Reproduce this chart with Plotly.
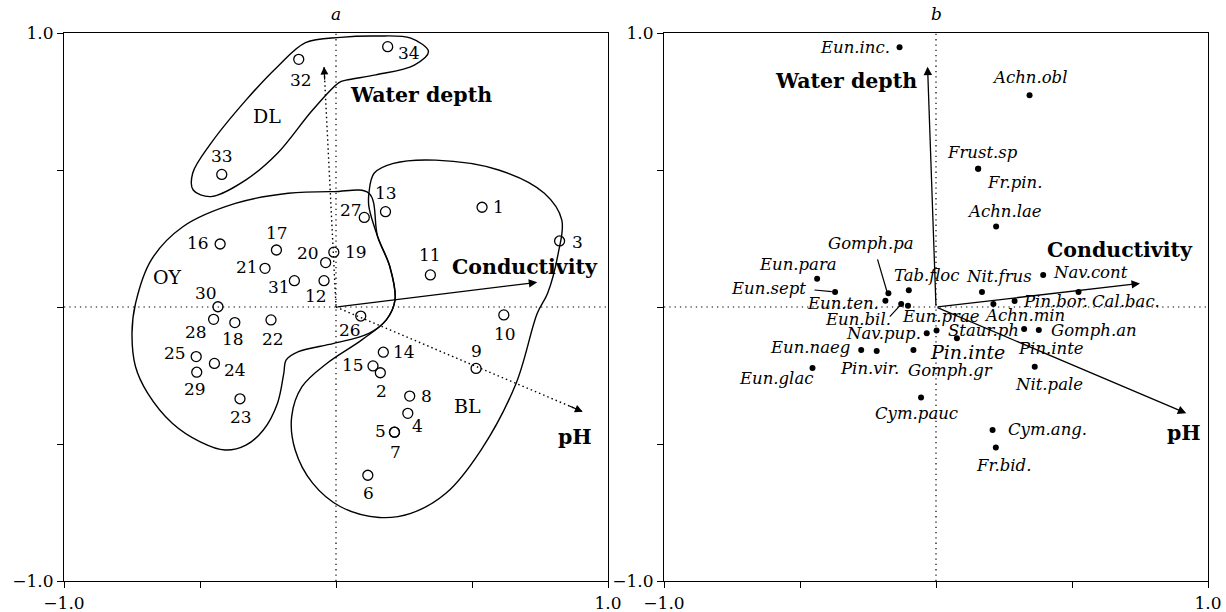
import plotly.graph_objects as go

FONT = "DejaVu Serif"

# ---------------- Panel a : sites ----------------
site_ids = ["1", "2", "3", "4", "5", "6", "7", "8", "9", "10", "11", "12", "13", "14", "15", "16", "17",
            "18", "19", "20", "21", "22", "23", "24", "25", "26", "27", "28", "29", "30", "31", "32", "33", "34"]
site_x = [0.537, 0.163, 0.822, 0.264, 0.215, 0.117, 0.215, 0.271, 0.515, 0.617, 0.347, -0.044, 0.182,
          0.174, 0.136, -0.426, -0.219, -0.372, -0.008, -0.038, -0.261, -0.239, -0.353, -0.447, -0.514,
          0.091, 0.104, -0.450, -0.512, -0.434, -0.153, -0.137, -0.420, 0.190]
site_y = [0.364, -0.240, 0.241, -0.388, -0.457, -0.614, -0.457, -0.325, -0.224, -0.029, 0.117, 0.096, 0.348,
          -0.165, -0.215, 0.230, 0.208, -0.057, 0.200, 0.162, 0.141, -0.047, -0.335, -0.206, -0.181,
          -0.033, 0.327, -0.045, -0.238, 0.001, 0.096, 0.904, 0.484, 0.950]
# label placement (pixel offsets from the marker, style only)
site_lab_dx = [16.5, 0.7, 18, 10, -14, 0.4, 1.4, 16.8, 0.4, 1, 0, -8.4, 0.7, 20.7, -20, -22, 1, -1.4, 21.8,
               -17.9, -18, 2, 1.4, 21, -21, -10.9, -13.7, -17.5, -1.8, -12.3, -15, 2, 0, 21.8]
site_lab_dy = [0, -18, -0.7, -12.7, 1.7, -17.3, -19.3, 0, 17.3, -19, 19.7, -15.3, 19, 0.7, 1, 1.3, 16.7,
               -16.7, 0.7, 9.3, 1, -19.3, -18.7, -6.7, 3.3, -14, 7.3, -12.3, -17, 13.3, -6, -20.7, 18.3, -6.7]

# group outlines (panel a)
group_names = ["DL", "OY", "BL"]
group_label_x = [-0.254, -0.621, 0.482]
group_label_y = [0.698, 0.111, -0.361]
dl_x = [-0.112, 0.017, 0.146, 0.275, 0.340, 0.288, 0.146, 0.037, 0.011, -0.086, -0.215, -0.331, -0.460,
        -0.525, -0.527, -0.460, -0.331, -0.215, -0.112]
dl_y = [0.965, 0.984, 0.989, 0.981, 0.932, 0.883, 0.847, 0.828, 0.819, 0.719, 0.561, 0.464, 0.403,
        0.427, 0.488, 0.597, 0.755, 0.877, 0.965]
oy_x = [0.121, -0.008, -0.176, -0.370, -0.563, -0.679, -0.737, -0.750, -0.737, -0.692, -0.602, -0.499,
        -0.408, -0.331, -0.267, -0.215, -0.192, -0.183, -0.138, -0.008, 0.121, 0.185, 0.217, 0.198,
        0.153, 0.121]
oy_y = [0.415, 0.421, 0.415, 0.378, 0.293, 0.172, 0.013, -0.096, -0.218, -0.315, -0.424, -0.492, -0.522,
        -0.504, -0.449, -0.351, -0.242, -0.193, -0.163, -0.133, -0.096, -0.047, 0.026, 0.147, 0.257, 0.415]
bl_x = [0.121, 0.140, 0.211, 0.366, 0.598, 0.766, 0.830, 0.817, 0.778, 0.740, 0.662, 0.533, 0.404, 0.275,
        0.159, 0.017, -0.086, -0.150, -0.163, -0.125, -0.034, 0.095, 0.185, 0.217, 0.198, 0.153, 0.121, 0.121]
bl_y = [0.415, 0.488, 0.524, 0.536, 0.500, 0.415, 0.318, 0.196, 0.050, -0.023, -0.279, -0.522, -0.680,
        -0.753, -0.768, -0.729, -0.643, -0.522, -0.400, -0.291, -0.206, -0.120, -0.047, 0.026, 0.147,
        0.257, 0.366, 0.415]

# ---------------- Environmental vectors ----------------
env_names = ["Water depth", "Conductivity", "pH"]
env_a_x = [-0.044, 0.740, 0.907]
env_a_y = [0.877, 0.090, -0.382]
env_a_dotted = [True, False, True]
env_a_label_x = [0.314, 0.694, 0.879]
env_a_label_y = [0.774, 0.147, -0.474]
env_b_x = [-0.031, 0.750, 0.920]
env_b_y = [0.877, 0.086, -0.388]
env_b_label_x = [-0.331, 0.675, 0.911]
env_b_label_y = [0.825, 0.208, -0.461]

# ---------------- Panel b : species ----------------
species = ["Eun.inc.", "Achn.obl", "Frust.sp", "Fr.pin.", "Achn.lae", "Eun.para", "Eun.sept", "Gomph.pa",
           "Tab.floc", "Eun.ten.", "Eun.bil.", "Eun.prae", "Nit.frus", "Nav.cont", "Achn.min", "Pin.bor.",
           "Cal.bac.", "Nav.pup.", "Staur.ph", "Pin.inte", "Pin.inte", "Gomph.an", "Eun.naeg", "Pin.vir.",
           "Gomph.gr", "Eun.glac", "Nit.pale", "Cym.pauc", "Cym.ang.", "Fr.bid."]
sp_x = [-0.134, 0.344, 0.155, 0.155, 0.221, -0.437, -0.371, -0.175, -0.100, -0.186, -0.128, -0.103, 0.169,
        0.394, 0.211, 0.289, 0.524, -0.034, 0.002, 0.077, 0.324, 0.378, -0.275, -0.218, -0.083, -0.454,
        0.363, -0.055, 0.208, 0.220]
sp_y = [0.948, 0.773, 0.505, 0.505, 0.294, 0.103, 0.055, 0.050, 0.061, 0.023, 0.011, 0.005, 0.055, 0.117,
        0.011, 0.022, 0.055, -0.096, -0.086, -0.114, -0.080, -0.084, -0.157, -0.161, -0.157, -0.223,
        -0.218, -0.330, -0.449, -0.513]
# label placement (anchor, pixel offsets) -- style only
sp_lab_anchor = ["r", "c", "c", "c", "c", "c", "r", "c", "c", "r", "c", "c", "c", "l", "c", "l", "l", "r",
                 "l", "c", "c", "l", "r", "c", "c", "c", "c", "c", "l", "c"]
sp_lab_dx = [-8, 0, 4.5, 36, 8, -19, -27, -17, 18, -4, -43, 32.6, 17.5, 8, 31.6, 6.7, 11, -4, 9.5, 10.5,
             27, 10.5, -9, -7, 37, -37, 14, -5, 13, 8]
sp_lab_dy = [0, 18, 16.3, -14, 14.7, 14.7, 3.7, 50, 15, -2.7, -15.3, -11, 15.3, 2.3, -12, -0.7, -9.7, 0, 0,
             -14, -19.3, 0, 2.3, -17.3, -20, -10.3, -17.3, -16, 0.7, -18]
sp_lab_size = [16.5] * len(species)
sp_lab_size[19] = 19
# leader lines for crowded labels (from label to point)
leader_x0 = [-0.447, -0.215, -0.170]
leader_y0 = [0.062, 0.174, -0.035]
leader_x1 = [-0.383, -0.179, -0.131]
leader_y1 = [0.056, 0.052, 0.007]

# ---------------- figure ----------------
fig = go.Figure()
black = "black"

# outlines
for gx, gy in [(dl_x, dl_y), (oy_x, oy_y), (bl_x, bl_y)]:
    fig.add_trace(go.Scatter(x=gx, y=gy, mode="lines", line=dict(color=black, width=1.4, shape="spline",
                                                                  smoothing=1.0),
                             hoverinfo="skip", xaxis="x", yaxis="y"))

# site markers
fig.add_trace(go.Scatter(x=site_x, y=site_y, mode="markers",
                         marker=dict(symbol="circle-open", size=10, color=black, line=dict(width=1.3)),
                         xaxis="x", yaxis="y"))

# species markers
fig.add_trace(go.Scatter(x=sp_x, y=sp_y, mode="markers",
                         marker=dict(symbol="circle", size=6, color=black),
                         xaxis="x2", yaxis="y2"))

# leader lines
for i in range(len(leader_x0)):
    fig.add_trace(go.Scatter(x=[leader_x0[i], leader_x1[i]], y=[leader_y0[i], leader_y1[i]], mode="lines",
                             line=dict(color=black, width=1.2), xaxis="x2", yaxis="y2", hoverinfo="skip"))

annotations = []
shapes = []

# dotted zero lines
for xr, yr in [("x", "y"), ("x2", "y2")]:
    shapes.append(dict(type="line", xref=xr, yref=yr, x0=0, x1=0, y0=-1, y1=1,
                       line=dict(color=black, width=1.2, dash="1.3px,4px")))
    shapes.append(dict(type="line", xref=xr, yref=yr, x0=-1, x1=1, y0=0, y1=0,
                       line=dict(color=black, width=1.2, dash="1.3px,4px")))

# panel a vectors
for i, name in enumerate(env_names):
    hx, hy = env_a_x[i], env_a_y[i]
    if env_a_dotted[i]:
        fig.add_trace(go.Scatter(x=[0, hx], y=[0, hy], mode="lines",
                                 line=dict(color=black, width=1.4, dash="1.5px,3px"),
                                 xaxis="x", yaxis="y", hoverinfo="skip"))
        annotations.append(dict(x=hx, y=hy, ax=hx * 0.94, ay=hy * 0.94, xref="x", yref="y", axref="x",
                                ayref="y", showarrow=True, arrowhead=2, arrowsize=1.3, arrowwidth=1.2,
                                arrowcolor=black, standoff=0, text=""))
    else:
        annotations.append(dict(x=hx, y=hy, ax=0, ay=0, xref="x", yref="y", axref="x", ayref="y",
                                showarrow=True, arrowhead=2, arrowsize=1.3, arrowwidth=1.3,
                                arrowcolor=black, standoff=0, text=""))
    annotations.append(dict(x=env_a_label_x[i], y=env_a_label_y[i], xref="x", yref="y", showarrow=False,
                            text="<b>%s</b>" % name, font=dict(family=FONT, size=20.5, color=black)))

# panel b vectors
for i, name in enumerate(env_names):
    annotations.append(dict(x=env_b_x[i], y=env_b_y[i], ax=0, ay=0, xref="x2", yref="y2", axref="x2",
                            ayref="y2", showarrow=True, arrowhead=2, arrowsize=1.3, arrowwidth=1.3,
                            arrowcolor=black, standoff=0, text=""))
    annotations.append(dict(x=env_b_label_x[i], y=env_b_label_y[i], xref="x2", yref="y2", showarrow=False,
                            text="<b>%s</b>" % name, font=dict(family=FONT, size=20.5, color=black)))

# site labels
for i, sid in enumerate(site_ids):
    annotations.append(dict(x=site_x[i], y=site_y[i], xref="x", yref="y", showarrow=False, text=sid,
                            xshift=site_lab_dx[i], yshift=site_lab_dy[i],
                            font=dict(family=FONT, size=17, color=black)))

# group labels
for i, g in enumerate(group_names):
    annotations.append(dict(x=group_label_x[i], y=group_label_y[i], xref="x", yref="y", showarrow=False,
                            text=g, font=dict(family=FONT, size=19, color=black)))

# species labels
anch = {"c": "center", "l": "left", "r": "right"}
for i, sp in enumerate(species):
    annotations.append(dict(x=sp_x[i], y=sp_y[i], xref="x2", yref="y2", showarrow=False,
                            text="<i>%s</i>" % sp, xanchor=anch[sp_lab_anchor[i]],
                            xshift=sp_lab_dx[i], yshift=sp_lab_dy[i],
                            font=dict(family=FONT, size=sp_lab_size[i], color=black)))

# panel titles
dom_a = [64 / 1226, 608 / 1226]
dom_b = [664 / 1226, 1208 / 1226]
ydom = [1 - 581 / 612, 1 - 33 / 612]
for d, t in [(dom_a, "a"), (dom_b, "b")]:
    annotations.append(dict(x=(d[0] + d[1]) / 2, y=1 - 14 / 612, xref="paper", yref="paper",
                            xanchor="center", yanchor="middle",
                            showarrow=False, text="<i>%s</i>" % t,
                            font=dict(family=FONT, size=17, color=black)))

axis_common = dict(range=[-1, 1], showgrid=False, zeroline=False, showline=True, mirror=True,
                   linecolor=black, linewidth=1.2, ticks="outside", ticklen=6, tickwidth=1.2,
                   tickcolor=black, tickvals=[-1, -0.5, 0, 0.5, 1],
                   ticktext=["\u22121.0", "", "", "", "1.0"], automargin=False,
                   tickfont=dict(family=FONT, size=17, color=black), fixedrange=True)

fig.update_layout(
    width=1226, height=612,
    margin=dict(l=0, r=0, t=0, b=0),
    paper_bgcolor="white", plot_bgcolor="white",
    showlegend=False,
    xaxis=dict(domain=dom_a, anchor="y", **axis_common),
    yaxis=dict(domain=ydom, anchor="x", **axis_common),
    xaxis2=dict(domain=dom_b, anchor="y2", **axis_common),
    yaxis2=dict(domain=ydom, anchor="x2", **axis_common),
    annotations=annotations,
    shapes=shapes,
)

fig.write_html("out.html", config={"displayModeBar": False},
               post_script="document.body.style.margin='0';document.body.style.overflow='hidden';")
